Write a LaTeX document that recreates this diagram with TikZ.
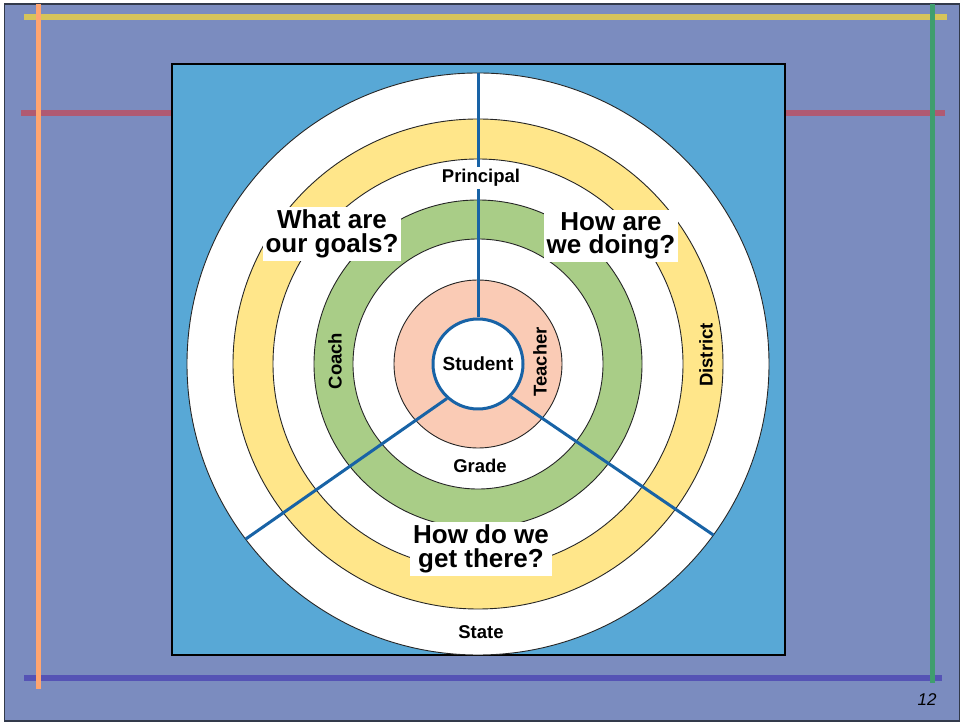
\documentclass[tikz,border=0pt]{standalone}
\usepackage{fontspec}
\setmainfont{Liberation Sans}
\usetikzlibrary{calc}
\definecolor{slide}{RGB}{123,140,191}
\definecolor{frame}{RGB}{50,58,75}
\definecolor{panel}{RGB}{88,168,214}
\definecolor{ringyellow}{RGB}{255,230,138}
\definecolor{ringgreen}{RGB}{169,205,135}
\definecolor{ringpink}{RGB}{250,203,181}
\definecolor{spokeblue}{RGB}{24,99,166}
\definecolor{ruleyellow}{RGB}{214,196,90}
\definecolor{ruleorange}{RGB}{255,165,112}
\definecolor{rulered}{RGB}{176,90,114}
\definecolor{rulegreen}{RGB}{63,158,110}
\definecolor{ruleblue}{RGB}{85,83,181}
\begin{document}
\begin{tikzpicture}[x=1pt,y=1pt,
  ring/.style={draw=black!85, line width=0.9pt},
  spoke/.style={draw=spokeblue, line width=3pt},
  small/.style={font=\bfseries\fontsize{18.5}{20}\selectfont, inner sep=1pt},
  question/.style={font=\bfseries\fontsize{26}{23.5}\selectfont, fill=white, align=center, inner sep=3pt},
  guide/.style={line width=5.5pt}
]
\useasboundingbox (0,0) rectangle (961,723);
\fill[white] (0,0) rectangle (961,723);
\filldraw[fill=slide, draw=frame, line width=1.5pt] (4.5,2) rectangle (959.5,719);

% coloured guide rules
\draw[guide, ruleblue]   (24,45)   -- (942,45);
\draw[guide, rulered]    (21,610)  -- (945,610);
\draw[guide, ruleyellow] (24,706)  -- (947,706);
\draw[guide, ruleorange] (38.5,719) -- (38.5,34);
\draw[guide, rulegreen]  (932.5,719) -- (932.5,40);

% panel with concentric rings
\coordinate (C) at (478,359);
\filldraw[fill=panel, draw=black, line width=1.8pt] (172,68) rectangle (785,659);
\begin{scope}
  \clip (172,68) rectangle (785,659);
  \filldraw[ring, fill=white]      (C) circle (291);
  \filldraw[ring, fill=ringyellow] (C) circle (245);
  \filldraw[ring, fill=white]      (C) circle (205);
  \filldraw[ring, fill=ringgreen]  (C) circle (164);
  \filldraw[ring, fill=white]      (C) circle (125);
  \filldraw[ring, fill=ringpink]   (C) circle (84);
\end{scope}
\node[circle, draw=spokeblue, line width=3pt, fill=white, minimum size=90, inner sep=0pt,
      font=\bfseries\fontsize{19}{21}\selectfont] (student) at (C) {Student};

% spokes from the centre to the rim
\coordinate (rimtop)   at ($(C)+(90:291)$);
\coordinate (rimleft)  at ($(C)+(217:291)$);
\coordinate (rimright) at ($(C)+(-36:291)$);
\draw[spoke] (student.north) -- (rimtop);
\draw[spoke] (student.228) -- (rimleft);
\draw[spoke] (student.-45) -- (rimright);

% ring labels
\node[small, fill=white, inner sep=2pt] (principal) at (481,545) {Principal};
\node[small, rotate=90] (teacher)  at (540,361) {Teacher};
\node[small, rotate=90] (coach)    at (335,362) {Coach};
\node[small, rotate=90] (district) at (706,368) {District};
\node[small] (grade) at (480,257) {Grade};
\node[small] (state) at (481,91) {State};

% the three questions
\node[question] (goals) at (332,489) {What are\\our goals?};
\node[question] (doing) at (611,487) {How are\\we doing?};
\node[question] (there) at (481,174) {How do we\\get there?};

% slide number
\node[font=\itshape\fontsize{17}{19}\selectfont] (pagenum) at (927,23) {12};
\end{tikzpicture}
\end{document}
